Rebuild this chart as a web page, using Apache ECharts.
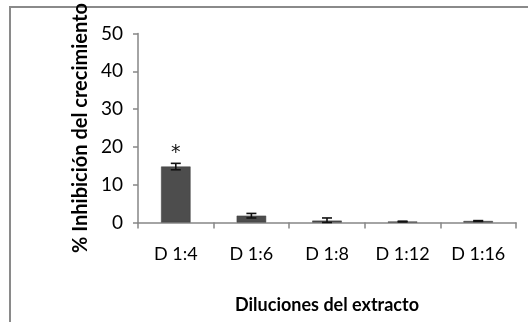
<!DOCTYPE html>
<html>
<head>
<meta charset="utf-8">
<script src="https://cdn.jsdelivr.net/npm/echarts@6/dist/echarts.min.js"></script>
<style>
html,body{margin:0;padding:0;background:#fff;}
#chart{width:528px;height:322px;}
</style>
</head>
<body>
<div id="chart"></div>
<script>
const categories = ['D 1:4', 'D 1:6', 'D 1:8', 'D 1:12', 'D 1:16'];
const values = [14.8, 1.8, 0.5, 0.25, 0.4];
const errors = [0.85, 0.6, 0.7, 0.1, 0.1];
const marks = ['*', '', '', '', ''];
const yTicks = [0, 10, 20, 30, 40, 50];

const chart = echarts.init(document.getElementById('chart'));
const FONT = 'Lato';
const axisGray = '#868686';

chart.setOption({
  animation: false,
  backgroundColor: '#fff',
  graphic: [{
    type: 'rect',
    shape: { x: 10, y: 7, width: 540, height: 340 },
    style: { fill: 'none', stroke: '#8a8a8a', lineWidth: 2 },
    z: -1
  }],
  grid: { left: 138, right: 12, top: 30, bottom: 99.5, containLabel: false },
  xAxis: {
    type: 'category',
    data: categories,
    name: 'Diluciones del extracto',
    nameLocation: 'middle',
    nameGap: 74,
    nameTextStyle: { fontFamily: FONT, fontWeight: 'bold', fontSize: 18, color: '#000' },
    axisLine: { lineStyle: { color: axisGray, width: 1.5 } },
    axisTick: { show: true, length: 6, lineStyle: { color: axisGray, width: 1.5 } },
    axisLabel: { fontFamily: FONT, fontSize: 18, color: '#000', margin: 23 }
  },
  yAxis: {
    type: 'value',
    min: 0, max: 50, interval: 10,
    name: '% Inhibición del crecimiento',
    nameLocation: 'middle',
    nameRotate: 90,
    nameGap: 38,
    nameTextStyle: { fontFamily: FONT, fontWeight: 'bold', fontSize: 20, color: '#000' },
    splitLine: { show: false },
    axisLine: { show: true, lineStyle: { color: axisGray, width: 1.5 } },
    axisTick: { show: true, length: 5, lineStyle: { color: axisGray, width: 1.5 } },
    axisLabel: {
      fontFamily: FONT, fontSize: 19, color: '#000', margin: 15,
      formatter: v => yTicks.includes(v) ? String(v) : ''
    }
  },
  series: [
    {
      type: 'bar',
      data: values.map((v, i) => ({
        value: v,
        label: { show: marks[i] !== '', formatter: marks[i] }
      })),
      barWidth: '39%',
      itemStyle: { color: '#4d4d4d', borderColor: '#3f3f3f', borderWidth: 0.5 },
      label: {
        position: 'top', distance: 4,
        fontFamily: 'DejaVu Sans', fontSize: 19, color: '#111'
      }
    },
    {
      type: 'custom',
      data: values.map((v, i) => [i, v, errors[i]]),
      z: 5,
      renderItem: function (params, api) {
        const i = api.value(0), v = api.value(1), e = api.value(2);
        const top = api.coord([i, v + e]);
        const bot = api.coord([i, Math.max(v - e, 0)]);
        const hw = 5;
        const style = { stroke: '#111', lineWidth: 1.6 };
        return {
          type: 'group',
          children: [
            { type: 'line', shape: { x1: top[0], y1: top[1], x2: bot[0], y2: bot[1] }, style },
            { type: 'line', shape: { x1: top[0] - hw, y1: top[1], x2: top[0] + hw, y2: top[1] }, style },
            { type: 'line', shape: { x1: bot[0] - hw, y1: bot[1], x2: bot[0] + hw, y2: bot[1] }, style }
          ]
        };
      }
    }
  ]
});
</script>
</body>
</html>
